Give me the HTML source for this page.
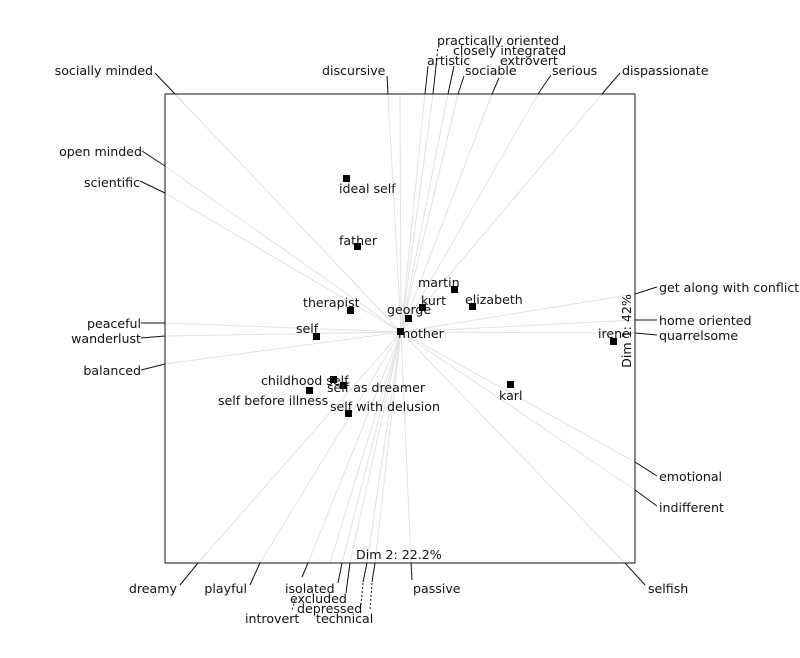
<!DOCTYPE html>
<html><head><style>body{margin:0;background:#fff}svg{display:block}text{font-family:"DejaVu Sans","Liberation Sans",sans-serif;font-size:12.6px;fill:#111}</style></head><body>
<svg width="800" height="658" xmlns="http://www.w3.org/2000/svg">
<g stroke="#e2e2e2" stroke-width="1">
<line x1="401" y1="332" x2="175" y2="94"/><line x1="401" y1="332" x2="388" y2="94"/>
<line x1="401" y1="332" x2="400" y2="94"/>
<line x1="401" y1="332" x2="425" y2="94"/><line x1="401" y1="332" x2="433" y2="94"/>
<line x1="401" y1="332" x2="448" y2="94"/><line x1="401" y1="332" x2="458" y2="94"/>
<line x1="401" y1="332" x2="492" y2="94"/><line x1="401" y1="332" x2="538" y2="94"/>
<line x1="401" y1="332" x2="602" y2="94"/>
<line x1="401" y1="332" x2="165" y2="166"/><line x1="401" y1="332" x2="165" y2="193"/>
<line x1="401" y1="332" x2="165" y2="323"/><line x1="401" y1="332" x2="165" y2="336"/>
<line x1="401" y1="332" x2="165" y2="364"/>
<line x1="401" y1="332" x2="635" y2="294"/><line x1="401" y1="332" x2="635" y2="320"/>
<line x1="401" y1="332" x2="635" y2="333"/><line x1="401" y1="332" x2="635" y2="462"/>
<line x1="401" y1="332" x2="635" y2="490"/>
<line x1="401" y1="332" x2="198" y2="563"/><line x1="401" y1="332" x2="260" y2="563"/>
<line x1="401" y1="332" x2="308" y2="563"/><line x1="401" y1="332" x2="330" y2="563"/>
<line x1="401" y1="332" x2="342" y2="563"/><line x1="401" y1="332" x2="350" y2="563"/>
<line x1="401" y1="332" x2="367" y2="563"/><line x1="401" y1="332" x2="375" y2="563"/>
<line x1="401" y1="332" x2="411" y2="563"/><line x1="401" y1="332" x2="625" y2="563"/>
</g>
<rect x="165" y="94" width="470" height="469" fill="none" stroke="#111" stroke-width="1"/>
<g stroke="#111" stroke-width="1" fill="none">
<line x1="175" y1="94" x2="155" y2="73"/><line x1="388" y1="94" x2="387" y2="76"/>
<line x1="425" y1="94" x2="428" y2="66"/><line x1="433" y1="94" x2="436" y2="66"/>
<line x1="448" y1="94" x2="454" y2="66"/><line x1="458" y1="94" x2="464" y2="76"/>
<line x1="492" y1="94" x2="499" y2="78"/><line x1="538" y1="94" x2="551" y2="75"/>
<line x1="602" y1="94" x2="620" y2="73"/>
<line x1="165" y1="166" x2="142" y2="151"/><line x1="165" y1="193" x2="140" y2="181"/>
<line x1="165" y1="323" x2="141" y2="323"/><line x1="165" y1="336" x2="141" y2="338"/>
<line x1="165" y1="364" x2="141" y2="370"/>
<line x1="635" y1="294" x2="657" y2="287"/><line x1="635" y1="320" x2="657" y2="320"/>
<line x1="635" y1="333" x2="657" y2="335"/><line x1="635" y1="462" x2="657" y2="476"/>
<line x1="635" y1="490" x2="657" y2="506"/>
<line x1="198" y1="563" x2="180" y2="585"/><line x1="260" y1="563" x2="250" y2="585"/>
<line x1="308" y1="563" x2="302" y2="577"/><line x1="342" y1="563" x2="338" y2="583"/>
<line x1="350" y1="563" x2="346" y2="593"/><line x1="411" y1="563" x2="412" y2="580"/>
<line x1="625" y1="563" x2="645" y2="585"/>
<line x1="367" y1="563" x2="363" y2="582"/><line x1="375" y1="563" x2="372" y2="582"/>
<line x1="363" y1="583" x2="361" y2="605" stroke-dasharray="2,2"/>
<line x1="372" y1="583" x2="370" y2="610" stroke-dasharray="2,2"/>
<line x1="436" y1="66" x2="438" y2="46" stroke-dasharray="2,3"/>
<line x1="295" y1="600" x2="292" y2="610" stroke-dasharray="2,2"/>
</g>
<g>
<text x="153" y="75" text-anchor="end">socially minded</text>
<text x="322" y="75">discursive</text>
<text x="427" y="65">artistic</text>
<text x="437" y="45">practically oriented</text>
<text x="453" y="55">closely integrated</text>
<text x="500" y="65">extrovert</text>
<text x="465" y="75">sociable</text>
<text x="552" y="75">serious</text>
<text x="622" y="75">dispassionate</text>
<text x="142" y="156" text-anchor="end">open minded</text>
<text x="140" y="187" text-anchor="end">scientific</text>
<text x="141" y="328" text-anchor="end">peaceful</text>
<text x="141" y="343" text-anchor="end">wanderlust</text>
<text x="141" y="375" text-anchor="end">balanced</text>
<text x="659" y="292">get along with conflicts</text>
<text x="659" y="325">home oriented</text>
<text x="659" y="340">quarrelsome</text>
<text x="659" y="481">emotional</text>
<text x="659" y="512">indifferent</text>
<text x="177" y="593" text-anchor="end">dreamy</text>
<text x="247" y="593" text-anchor="end">playful</text>
<text x="285" y="593">isolated</text>
<text x="290" y="603">excluded</text>
<text x="297" y="613">depressed</text>
<text x="245" y="623">introvert</text>
<text x="316" y="623">technical</text>
<text x="413" y="593">passive</text>
<text x="648" y="593">selfish</text>
<text x="356" y="559" fill="#333">Dim 2: 22.2%</text>
<text transform="translate(631,331) rotate(-90)" text-anchor="middle" fill="#333">Dim 1: 42%</text>
</g>
<g fill="#000">
<rect x="343" y="175" width="7" height="7"/><rect x="354" y="243" width="7" height="7"/>
<rect x="451" y="286" width="7" height="7"/><rect x="469" y="303" width="7" height="7"/>
<rect x="419" y="304" width="7" height="7"/><rect x="405" y="315" width="7" height="7"/>
<rect x="347" y="307" width="7" height="7"/><rect x="313" y="333" width="7" height="7"/>
<rect x="397" y="328" width="7" height="7"/><rect x="610" y="338" width="7" height="7"/>
<rect x="507" y="381" width="7" height="7"/><rect x="330" y="376" width="7" height="7"/>
<rect x="340" y="382" width="7" height="7"/><rect x="306" y="387" width="7" height="7"/>
<rect x="345" y="410" width="7" height="7"/>
</g>
<g>
<text x="339" y="193">ideal self</text><text x="339" y="245">father</text>
<text x="418" y="287">martin</text><text x="465" y="304">elizabeth</text>
<text x="421" y="305">kurt</text><text x="387" y="314">george</text>
<text x="303" y="307">therapist</text><text x="296" y="333">self</text>
<text x="398" y="338">mother</text><text x="598" y="338">irene</text>
<text x="499" y="400">karl</text><text x="261" y="385">childhood self</text>
<text x="327" y="392">self as dreamer</text><text x="218" y="405">self before illness</text>
<text x="330" y="411">self with delusion</text>
</g>
</svg>
</body></html>
